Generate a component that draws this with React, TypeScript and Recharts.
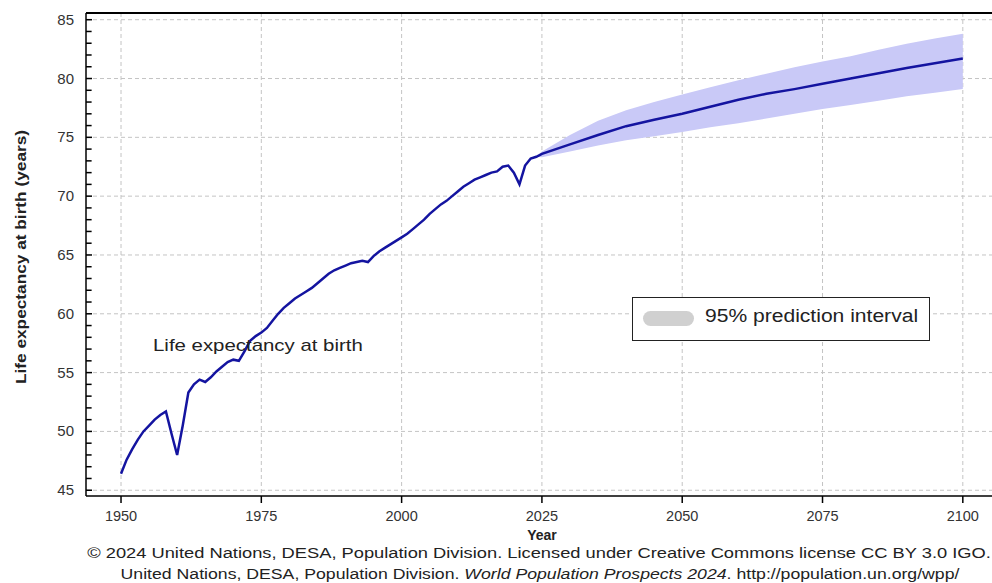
import { ComposedChart, Line, Area, XAxis, YAxis, CartesianGrid, ReferenceLine } from 'recharts';

// observed life expectancy, one value per year from 1950
const histStart = 1950;
const histValues = [
    46.4, 47.6, 48.5, 49.3, 50.0, 50.5, 51.0, 51.4, 51.7, 49.8,
    48.0, 50.5, 53.3, 54.0, 54.4, 54.2, 54.6, 55.1, 55.5, 55.9,
    56.1, 56.0, 56.8, 57.7, 58.1, 58.4, 58.8, 59.4, 60.0, 60.5,
    60.9, 61.3, 61.6, 61.9, 62.2, 62.6, 63.0, 63.4, 63.7, 63.9,
    64.1, 64.3, 64.4, 64.5, 64.4, 64.9, 65.3, 65.6, 65.9, 66.2,
    66.5, 66.8, 67.2, 67.6, 68.0, 68.5, 68.9, 69.3, 69.6, 70.0,
    70.4, 70.8, 71.1, 71.4, 71.6, 71.8, 72.0, 72.1, 72.5, 72.6,
    72.0, 71.0, 72.6, 73.2,
];

// projections (median + 95% interval)
const projYears = [2024, 2025, 2030, 2035, 2040, 2045, 2050, 2055, 2060, 2065, 2070, 2075, 2080, 2085, 2090, 2095, 2100];
const projMedian = [73.35, 73.6, 74.4, 75.2, 75.95, 76.5, 77.0, 77.6, 78.2, 78.7, 79.1, 79.55, 80.0, 80.45, 80.9, 81.3, 81.7];
const projLow = [73.35, 73.3, 73.8, 74.3, 74.75, 75.1, 75.45, 75.85, 76.2, 76.6, 77.0, 77.4, 77.75, 78.1, 78.5, 78.8, 79.1];
const projHigh = [73.35, 73.8, 75.2, 76.4, 77.3, 78.0, 78.65, 79.25, 79.85, 80.4, 80.95, 81.45, 81.9, 82.45, 82.95, 83.4, 83.8];

const xTicks = [1950, 1975, 2000, 2025, 2050, 2075, 2100];
const yTicks = [45, 50, 55, 60, 65, 70, 75, 80, 85];
const yMinor = [46, 47, 48, 49, 51, 52, 53, 54, 56, 57, 58, 59, 61, 62, 63, 64, 66, 67, 68, 69, 71, 72, 73, 74, 76, 77, 78, 79, 81, 82, 83, 84];

const xDomain = [1943.76, 2105.2];
const yDomain = [44.51, 85.57];

const data = [
    ...histValues.map((v, i) => ({ year: histStart + i, value: v })),
    ...projYears.map((y, i) => ({ year: y, value: projMedian[i], band: [projLow[i], projHigh[i]] })),
];

const font = 'Arial, "Liberation Sans", sans-serif';

function YTick(props: any) {
    const { x, y, payload } = props;
    const ax = x + 12;
    return (
        <g>
            <line x1={ax} x2={ax + 6} y1={y} y2={y} stroke="#000" strokeWidth={1.5} />
            <text x={x} y={y} dy={5} textAnchor="end" fontSize={15} fill="#333" fontFamily={font}>
                {payload.value}
            </text>
        </g>
    );
}

function App() {
    return (
        <div style={{ position: 'absolute', left: 0, top: 0, width: 992, height: 583, background: '#fff', fontFamily: font }}>
            <ComposedChart width={992} height={583} data={data} margin={{ top: 13, right: 0, bottom: 0, left: 0 }}>
                <CartesianGrid
                    stroke="#c4c4c4"
                    strokeDasharray="4 3"
                    horizontalValues={yTicks}
                    verticalValues={xTicks}
                />
                <XAxis
                    dataKey="year"
                    type="number"
                    domain={xDomain}
                    allowDataOverflow
                    ticks={xTicks}
                    tickSize={7}
                    tickMargin={8}
                    axisLine={{ stroke: '#000', strokeWidth: 1.5 }}
                    tickLine={{ stroke: '#000', strokeWidth: 1.5 }}
                    tick={{ fontSize: 14.5, fill: '#333', fontFamily: font }}
                    height={87}
                />
                <YAxis
                    type="number"
                    domain={yDomain}
                    allowDataOverflow
                    ticks={yTicks}
                    tickSize={0}
                    tickMargin={12}
                    axisLine={{ stroke: '#000', strokeWidth: 1.5 }}
                    tickLine={false}
                    tick={<YTick />}
                    width={86}
                />
                {yMinor.map((v) => (
                    <ReferenceLine
                        key={v}
                        segment={[{ x: xDomain[0], y: v }, { x: xDomain[0] + 1, y: v }]}
                        stroke="#000"
                        strokeWidth={1.5}
                    />
                ))}
                <ReferenceLine y={yDomain[1]} stroke="#000" strokeWidth={2} />
                <Area
                    dataKey="band"
                    stroke="none"
                    fill="#c9c9f7"
                    fillOpacity={1}
                    isAnimationActive={false}
                    connectNulls={false}
                />
                <Line
                    dataKey="value"
                    stroke="#1414a0"
                    strokeWidth={2.5}
                    dot={false}
                    isAnimationActive={false}
                />
            </ComposedChart>

            <div style={{ position: 'absolute', left: 542, top: 535, transform: 'translate(-50%, -50%)', fontWeight: 'bold', fontSize: 14, lineHeight: '14px', color: '#222' }}>
                Year
            </div>
            <div style={{ position: 'absolute', left: 20, top: 257, transform: 'translate(-50%, -50%) rotate(-90deg) scaleX(1.15)', whiteSpace: 'nowrap', fontWeight: 'bold', fontSize: 15, color: '#222' }}>
                Life expectancy at birth (years)
            </div>
            <div style={{ position: 'absolute', left: 153, top: 336, fontSize: 17, color: '#222', whiteSpace: 'nowrap', transform: 'scaleX(1.2)', transformOrigin: 'left center' }}>
                Life expectancy at birth
            </div>
            <div style={{ position: 'absolute', left: 632, top: 297, width: 298, height: 44, border: '1.5px solid #222', background: '#fff', boxSizing: 'border-box' }}>
                <div style={{ position: 'absolute', left: 10, top: 13, width: 51, height: 15, borderRadius: 8, background: '#d0d0d0' }} />
                <div style={{ position: 'absolute', left: 72, top: 8, fontSize: 18, color: '#222', whiteSpace: 'nowrap', transform: 'scaleX(1.17)', transformOrigin: 'left center' }}>
                    95% prediction interval
                </div>
            </div>
            <div style={{ position: 'absolute', left: 539, top: 552, transform: 'translate(-50%, -50%) scaleX(1.18)', fontSize: 15.5, lineHeight: '17px', color: '#222', whiteSpace: 'nowrap' }}>
                © 2024 United Nations, DESA, Population Division. Licensed under Creative Commons license CC BY 3.0 IGO.
            </div>
            <div style={{ position: 'absolute', left: 540, top: 573, transform: 'translate(-50%, -50%) scaleX(1.14)', fontSize: 15.5, lineHeight: '17px', color: '#222', whiteSpace: 'nowrap' }}>
                United Nations, DESA, Population Division. <i>World Population Prospects 2024</i>. http://population.un.org/wpp/
            </div>
        </div>
    );
}

export default App;
